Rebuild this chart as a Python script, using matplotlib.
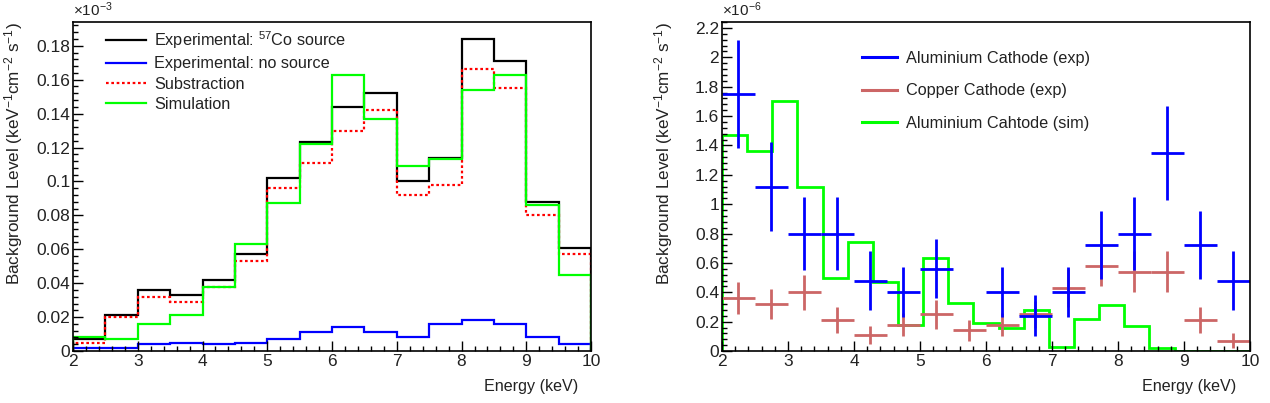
import numpy as np
import matplotlib
matplotlib.use("Agg")
import matplotlib.pyplot as plt
from matplotlib.ticker import MultipleLocator, FuncFormatter
from matplotlib.lines import Line2D

plt.rcParams['font.family'] = ['Liberation Sans', 'DejaVu Sans']
plt.rcParams['mathtext.fontset'] = 'custom'
plt.rcParams['mathtext.rm'] = 'Liberation Sans'
plt.rcParams['mathtext.it'] = 'Liberation Sans:italic'
plt.rcParams['mathtext.bf'] = 'Liberation Sans:bold'

# ---------------- Left panel data (units of 1e-3) ----------------
left_edges = np.arange(2.0, 10.01, 0.5)
co_source = [0.007, 0.021, 0.036, 0.033, 0.042, 0.057, 0.102, 0.123,
             0.144, 0.152, 0.100, 0.114, 0.184, 0.171, 0.088, 0.061]
no_source = [0.002, 0.002, 0.004, 0.0045, 0.004, 0.0045, 0.007, 0.011,
             0.014, 0.011, 0.008, 0.016, 0.018, 0.016, 0.008, 0.004]
subtraction = [0.005, 0.020, 0.032, 0.029, 0.038, 0.053, 0.096, 0.111,
               0.130, 0.142, 0.092, 0.098, 0.166, 0.155, 0.080, 0.057]
simulation = [0.008, 0.007, 0.016, 0.021, 0.038, 0.063, 0.087, 0.122,
              0.163, 0.137, 0.109, 0.113, 0.154, 0.163, 0.086, 0.045]

# ---------------- Right panel data (units of 1e-6) ----------------
right_centers = np.arange(2.25, 10.0, 0.5)
al_exp = [1.75, 1.12, 0.80, 0.80, 0.48, 0.40, 0.56, np.nan,
          0.40, 0.24, 0.40, 0.72, 0.80, 1.35, 0.72, 0.48]
al_err = [0.37, 0.30, 0.25, 0.25, 0.20, 0.17, 0.20, np.nan,
          0.17, 0.14, 0.17, 0.23, 0.25, 0.32, 0.23, 0.20]
cu_exp = [0.36, 0.32, 0.40, 0.21, 0.11, 0.18, 0.25, 0.14,
          0.18, 0.25, 0.43, 0.58, 0.54, 0.54, 0.21, 0.07]
cu_err = [0.11, 0.10, 0.12, 0.09, 0.06, 0.08, 0.10, 0.07,
          0.08, 0.09, 0.13, 0.14, 0.14, 0.14, 0.09, 0.05]
sim_edges = np.linspace(2.0, 10.0, 22)
al_sim = [1.47, 1.36, 1.70, 1.12, 0.50, 0.74, 0.47, 0.18, 0.63, 0.33, 0.19,
          0.16, 0.28, 0.03, 0.22, 0.31, 0.17, 0.02, 0.0, 0.0, 0.0]

ylabel = r"Background Level (keV$^{-1}$cm$^{-2}$ s$^{-1}$)"

fig = plt.figure(figsize=(12.7, 4.03), dpi=100)
ax1 = fig.add_axes([0.0575, 0.129, 0.4079, 0.8164])
ax2 = fig.add_axes([0.5685, 0.129, 0.4157, 0.8164])

TICK_FS = 12.5
LAB_FS = 12.3
XLAB_FS = 11.6
LEG_FS = 11.7

def style_axes(ax, ymax, ymajor, yminor, ylab_x, xlab_x):
    ax.set_xlim(2, 10)
    ax.set_ylim(0, ymax)
    ax.xaxis.set_major_locator(MultipleLocator(1))
    ax.xaxis.set_minor_locator(MultipleLocator(0.2))
    ax.yaxis.set_major_locator(MultipleLocator(ymajor))
    ax.yaxis.set_minor_locator(MultipleLocator(yminor))
    ax.yaxis.set_major_formatter(FuncFormatter(lambda v, p: f"{v:g}" if abs(v) > 1e-9 else "0"))
    ax.tick_params(which='both', direction='in', top=False, right=False,
                   labelsize=TICK_FS, width=1.0, pad=2, labelcolor='#222222')
    ax.tick_params(which='major', length=7)
    ax.tick_params(which='minor', length=3.5)
    for s in ax.spines.values():
        s.set_linewidth(1.2)
    ax.set_xlabel("Energy (keV)", loc='right', fontsize=XLAB_FS, color='#222222')
    ax.set_ylabel(ylabel, loc='top', fontsize=LAB_FS, color='#222222')
    ax.xaxis.set_label_coords(xlab_x, -0.085)
    ax.yaxis.set_label_coords(ylab_x, 1.0)

# Left panel
ax1.stairs(co_source, left_edges, color='black', lw=1.6)
ax1.stairs(no_source, left_edges, color='#0000ff', lw=1.6)
ax1.stairs(subtraction, left_edges, color='#ff0000', lw=1.6, linestyle=(0, (1.2, 1.2)))
ax1.stairs(simulation, left_edges, color='#00ff00', lw=1.6)
style_axes(ax1, 0.194, 0.02, 0.004, -0.093, 0.975)
ax1.text(0.0, 1.008, r"$\times$10$^{-3}$", transform=ax1.transAxes, fontsize=11,
         va='bottom', ha='left', color='#222222')

h1 = [Line2D([], [], color='black', lw=1.6),
      Line2D([], [], color='#0000ff', lw=1.6),
      Line2D([], [], color='#ff0000', lw=1.6, linestyle=(0, (1.2, 1.2))),
      Line2D([], [], color='#00ff00', lw=1.6)]
l1 = ["Experimental: $^{57}$Co source", "Experimental: no source", "Substraction", "Simulation"]
ax1.legend(h1, l1, loc='upper left', bbox_to_anchor=(0.042, 1.012), frameon=False,
           fontsize=LEG_FS, handlelength=2.45, labelspacing=0.32, handletextpad=0.5,
           borderaxespad=0.3, labelcolor='#222222')

# Right panel
ax2.stairs(al_sim, sim_edges, color='#00ff00', lw=2.0)
ax2.errorbar(right_centers, cu_exp, xerr=0.25, yerr=cu_err, fmt='none',
             ecolor='#cc6666', elinewidth=2.0, capsize=0)
ax2.errorbar(right_centers, al_exp, xerr=0.25, yerr=al_err, fmt='none',
             ecolor='#0000ff', elinewidth=2.0, capsize=0)
style_axes(ax2, 2.24, 0.2, 0.04, -0.089, 0.975)
ax2.text(0.0, 1.008, r"$\times$10$^{-6}$", transform=ax2.transAxes, fontsize=11,
         va='bottom', ha='left', color='#222222')

h2 = [Line2D([], [], color='#0000ff', lw=2.2),
      Line2D([], [], color='#cc6666', lw=2.2),
      Line2D([], [], color='#00ff00', lw=2.2)]
l2 = ["Aluminium Cathode (exp)", "Copper Cathode (exp)", "Aluminium Cahtode (sim)"]
ax2.legend(h2, l2, loc='upper left', bbox_to_anchor=(0.243, 0.947), frameon=False,
           fontsize=LEG_FS, handlelength=2.2, labelspacing=1.08, handletextpad=0.5,
           borderaxespad=0.3, labelcolor='#222222')

fig.savefig("out.png", dpi=100)
